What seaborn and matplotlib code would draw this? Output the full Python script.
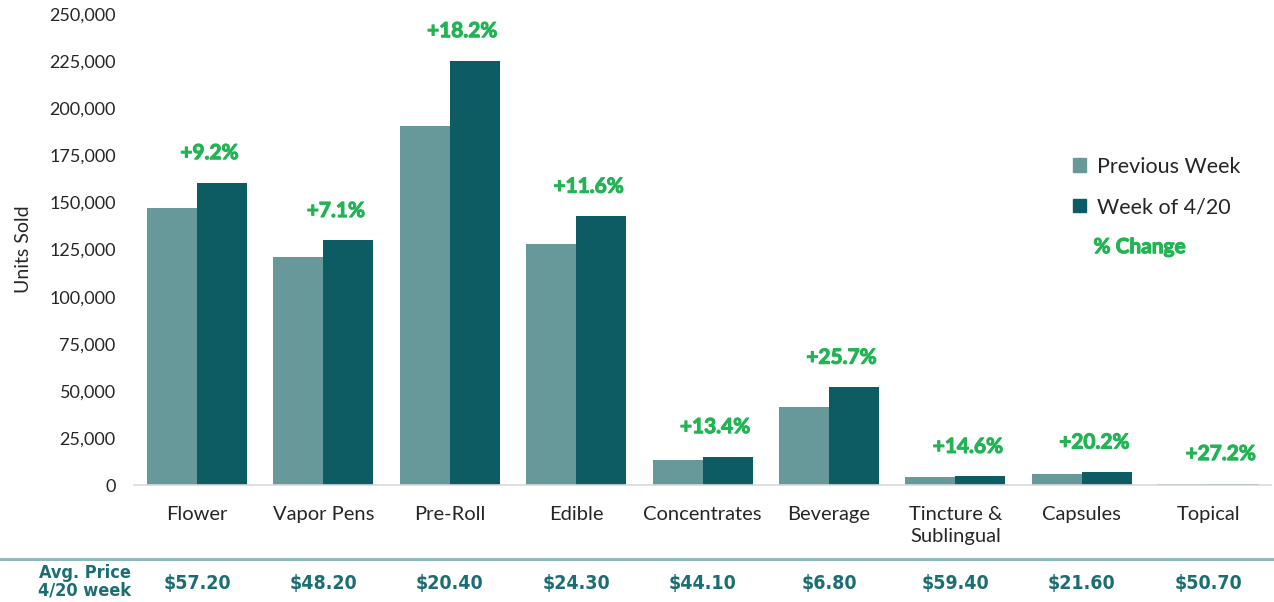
import pandas as pd
import seaborn as sns
import matplotlib.pyplot as plt
import matplotlib.transforms as mtransforms
import matplotlib.patheffects as pe
from matplotlib.patches import Patch
from matplotlib.ticker import FuncFormatter

# units sold per category, previous week vs week of 4/20
categories = ['Flower', 'Vapor Pens', 'Pre-Roll', 'Edible', 'Concentrates',
              'Beverage', 'Tincture &\nSublingual', 'Capsules', 'Topical']
previous_week = [147000, 121200, 190500, 127900, 13400, 41400, 4100, 5800, 700]
week_of_420 = [160500, 129800, 225200, 142700, 15200, 52000, 4700, 7000, 900]
pct_change = ['+9.2%', '+7.1%', '+18.2%', '+11.6%', '+13.4%',
              '+25.7%', '+14.6%', '+20.2%', '+27.2%']
avg_price = ['$57.20', '$48.20', '$20.40', '$24.30', '$44.10',
             '$6.80', '$59.40', '$21.60', '$50.70']
series_names = ['Previous Week', 'Week of 4/20']

PREV_COLOR = '#67999b'
WEEK_COLOR = '#0e5c63'
GREEN = '#22b454'
PRICE_COLOR = '#1d6e73'

df = pd.DataFrame({
    'category': categories * 2,
    'units': previous_week + week_of_420,
    'series': [series_names[0]] * len(categories) + [series_names[1]] * len(categories),
})

sns.set_style('white')
plt.rcParams['font.family'] = ['Lato', 'DejaVu Sans']

fig = plt.figure(figsize=(12.74, 6.02), dpi=100)
ax = fig.add_axes([0.105, 0.194, 0.893, 0.783])

sns.barplot(data=df, x='category', y='units', hue='series',
            palette=[PREV_COLOR, WEEK_COLOR], width=0.79, gap=0,
            saturation=1, linewidth=0, legend=False, ax=ax)

ax.set_ylim(0, 250000)
ax.set_yticks(range(0, 250001, 25000))
ax.yaxis.set_major_formatter(FuncFormatter(lambda v, p: f'{int(v):,}'))
ax.set_xlim(-0.5, len(categories) - 0.5)
ax.tick_params(axis='y', length=0, labelsize=13, labelcolor='#262626', pad=13)
ax.tick_params(axis='x', length=0, labelsize=14.5, labelcolor='#262626', pad=15)
for t in ax.get_xticklabels():
    t.set_linespacing(1.35)
ax.set_xlabel('')
ax.set_ylabel('Units Sold', fontsize=14, color='#262626', labelpad=12)
for side in ['top', 'right', 'left']:
    ax.spines[side].set_visible(False)
ax.spines['bottom'].set_color('#d9d9d9')
ax.spines['bottom'].set_linewidth(1.2)

# % change labels above the 4/20 bars (a thin stroke to make them heavier)
heavy = [pe.withStroke(linewidth=0.8, foreground=GREEN)]
for i, (val, lab) in enumerate(zip(week_of_420, pct_change)):
    ax.annotate(lab, (i, val), xytext=(9, 14), textcoords='offset points',
                ha='center', va='bottom', fontsize=15, fontweight='bold',
                color=GREEN, path_effects=heavy)

# legend
handles = [Patch(color=PREV_COLOR), Patch(color=WEEK_COLOR)]
ax.legend(handles, series_names, loc='upper left', bbox_to_anchor=(0.826, 0.697),
          frameon=False, fontsize=15.5, handlelength=0.6, handleheight=0.6,
          handletextpad=0.5, labelspacing=0.95, borderpad=0, borderaxespad=0)
ax.text(0.8436, 0.505, '% Change', transform=ax.transAxes, fontsize=15,
        fontweight='bold', color=GREEN, ha='left', va='center', path_effects=heavy)

# avg price row under the chart
fig.add_artist(plt.Line2D([0, 1], [0.071, 0.071], color='#8fbabd', lw=2.2,
                          transform=fig.transFigure))
trans = mtransforms.blended_transform_factory(ax.transData, fig.transFigure)
for i, p in enumerate(avg_price):
    ax.text(i, 0.031, p, transform=trans, ha='center', va='center',
            fontsize=14, fontweight='bold', fontstretch='condensed',
            color=PRICE_COLOR, family='DejaVu Sans')
fig.text(0.103, 0.034, 'Avg. Price\n4/20 week', ha='right', va='center',
         fontsize=13, fontweight='bold', fontstretch='condensed',
         color=PRICE_COLOR, linespacing=0.95, family='DejaVu Sans')

fig.savefig('out.png', dpi=100)
